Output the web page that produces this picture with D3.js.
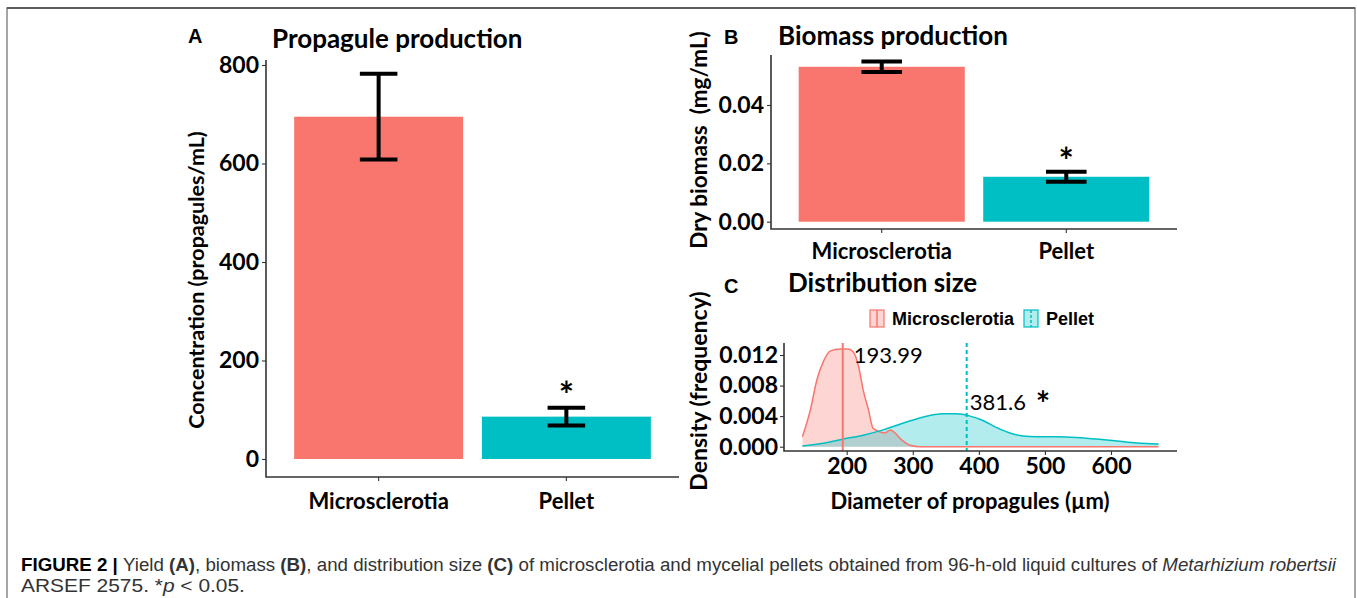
<!DOCTYPE html>
<html>
<head>
<meta charset="utf-8">
<script src="https://cdn.jsdelivr.net/npm/d3@7"></script>
<style>
  body { margin: 0; background: #fff; }
  svg text { font-family: Lato, "Open Sans", sans-serif; }
  .tick text { font-weight: bold; fill: #000; }
  .lbl { font-family: "Liberation Sans", Arial, sans-serif !important; font-weight: bold; }
</style>
</head>
<body>
<svg id="fig" width="1357" height="598"></svg>
<script>
// data
var barCats = ['Microsclerotia', 'Pellet'];
var propMean = [695, 86];
var propErr = [87, 18];
var bioMean = [0.0531, 0.0154];
var bioErr = [0.0018, 0.0017];
var propTicks = [0, 200, 400, 600, 800];
var bioTicks = [0, 0.02, 0.04];
var sizeTicksX = [200, 300, 400, 500, 600];
var sizeTicksY = [0, 0.004, 0.008, 0.012];

var microX = [133, 145, 155, 165, 175, 190, 202, 210, 218, 225, 233, 240, 248, 258, 266, 273, 283, 296, 311, 672];
var microY = [0.0013, 0.0048, 0.0088, 0.0112, 0.0125, 0.0128, 0.0128, 0.0124, 0.0105, 0.0074, 0.0048, 0.0024, 0.0020, 0.0018, 0.0022, 0.0018, 0.0009, 0.0002, 0.0000, 0.0000];
var pelletX = [133, 165, 195, 225, 255, 286, 316, 346, 366, 387, 407, 427, 447, 467, 487, 518, 548, 578, 609, 639, 672];
var pelletY = [0.0001, 0.00045, 0.0010, 0.0015, 0.0022, 0.0031, 0.0039, 0.0043, 0.0043, 0.0040, 0.0034, 0.0025, 0.0018, 0.0014, 0.0013, 0.0013, 0.0012, 0.0010, 0.00075, 0.0005, 0.00035];
var medians = [193.99, 381.6];

var RED = '#F8766D', CYAN = '#00BFC4';

var svg = d3.select('#fig');

// frame round the figure
svg.append('path').attr('d', 'M7,600V8H1355V600').attr('fill', 'none').attr('stroke', '#888').attr('stroke-width', 1.5);
svg.append('line').attr('x1', 7).attr('x2', 1355).attr('y1', 8).attr('y2', 8).attr('stroke', '#444').attr('stroke-width', 1.5);

function axisLines(g, x0, x1, y0, y1) {
    g.append('path')
        .attr('d', 'M' + x0 + ',' + y0 + 'V' + y1 + 'H' + x1)
        .attr('fill', 'none').attr('stroke', '#333').attr('stroke-width', 1.6);
}

function styleAxis(sel, size) {
    sel.select('.domain').remove();
    sel.selectAll('.tick line').attr('stroke', '#333').attr('stroke-width', 1.1);
    sel.selectAll('.tick text').style('font-size', size + 'px');
}

// bar panel (A and B)
function barPanel(o) {
    var g = svg.append('g');
    var x = d3.scaleBand().domain(barCats).range([o.x0, o.x1]).paddingInner(0.1).paddingOuter(0.15);
    var y = d3.scaleLinear().domain(o.domain).range(o.yrange);

    g.selectAll('rect.bar')
        .data(o.mean)
        .enter().append('rect')
        .attr('class', 'bar')
        .attr('x', function(d, i) { return x(barCats[i]); })
        .attr('width', x.bandwidth())
        .attr('y', function(d) { return y(d); })
        .attr('height', function(d) { return y(0) - y(d); })
        .attr('fill', function(d, i) { return i ? CYAN : RED; });

    // error bars
    var cap = x.step() * o.cap;
    var eb = g.selectAll('g.err')
        .data(o.mean)
        .enter().append('g')
        .attr('stroke', '#000').attr('stroke-width', 4).attr('fill', 'none');
    eb.append('path').attr('d', function(d, i) {
        var cx = x(barCats[i]) + x.bandwidth() / 2,
            hi = y(d + o.err[i]), lo = y(d - o.err[i]);
        return 'M' + (cx - cap / 2) + ',' + hi + 'H' + (cx + cap / 2) +
            'M' + cx + ',' + hi + 'V' + lo +
            'M' + (cx - cap / 2) + ',' + lo + 'H' + (cx + cap / 2);
    });

    // significance mark
    g.append('text')
        .attr('x', x('Pellet') + x.bandwidth() / 2)
        .attr('y', y(o.mean[1] + o.err[1]) + o.starDy)
        .attr('text-anchor', 'middle')
        .style('font-size', '36px').style('font-weight', 'bold')
        .text('*');

    var ya = g.append('g').attr('transform', 'translate(' + o.x0 + ',0)')
        .call(d3.axisLeft(y).tickValues(o.ticks).tickFormat(o.fmt).tickSize(4).tickPadding(3));
    styleAxis(ya, 23);
    var xa = g.append('g').attr('transform', 'translate(0,' + o.y1 + ')')
        .call(d3.axisBottom(x).tickSize(4).tickPadding(o.xpad));
    styleAxis(xa, 22);
    axisLines(g, o.x0, o.x1, o.y0, o.y1);

    g.append('text')
        .attr('transform', 'translate(' + o.ytx + ',' + o.yty + ') rotate(-90)')
        .attr('text-anchor', 'middle')
        .style('font-size', o.ysize + 'px').style('font-weight', 'bold')
        .text(o.ytitle);
    g.append('text').attr('x', o.tx).attr('y', o.ty)
        .style('font-size', '26px').style('font-weight', 'bold').text(o.title);
    g.append('text').attr('class', 'lbl').attr('x', o.lx).attr('y', o.ly)
        .style('font-size', '20px').text(o.letter);
}

barPanel({
    x0: 266, x1: 679, y0: 60, y1: 477,
    domain: [0, 800], yrange: [459, 65],
    mean: propMean, err: propErr, ticks: propTicks, fmt: d3.format('d'),
    cap: 0.2, xpad: 12, starDy: 0,
    ytitle: 'Concentration (propagules/mL)', ytx: 204, yty: 280, ysize: 21.5,
    title: 'Propagule production', tx: 272, ty: 48,
    letter: 'A', lx: 188, ly: 43
});

barPanel({
    x0: 771, x1: 1177, y0: 55, y1: 229,
    domain: [0, 0.04], yrange: [221.7, 105],
    mean: bioMean, err: bioErr, ticks: bioTicks, fmt: d3.format('.2f'),
    cap: 0.22, xpad: 10, starDy: 2,
    ytitle: 'Dry biomass\u00a0 (mg/mL)', ytx: 707, yty: 140, ysize: 22.5,
    title: 'Biomass production', tx: 778, ty: 45,
    letter: 'B', lx: 724, ly: 44
});

// density panel (C)
(function() {
    var g = svg.append('g');
    var x0 = 784, x1 = 1177, y0 = 343, y1 = 451;
    var x = d3.scaleLinear().domain([200, 600]).range([846.7, 1111]);
    var y = d3.scaleLinear().domain([0, 0.012]).range([446.7, 355]);

    var series = [
        { xs: microX, ys: microY, color: RED },
        { xs: pelletX, ys: pelletY, color: CYAN }
    ];
    var area = d3.area().curve(d3.curveMonotoneX)
        .x(function(d) { return x(d[0]); }).y0(y(0)).y1(function(d) { return y(d[1]); });
    var line = d3.line().curve(d3.curveMonotoneX)
        .x(function(d) { return x(d[0]); }).y(function(d) { return y(d[1]); });

    series.forEach(function(s) {
        var pts = d3.zip(s.xs, s.ys);
        g.append('path').datum(pts).attr('d', area).attr('fill', s.color).attr('fill-opacity', 0.3);
    });
    series.forEach(function(s) {
        var pts = d3.zip(s.xs, s.ys);
        g.append('path').datum(pts).attr('d', line).attr('fill', 'none').attr('stroke', s.color).attr('stroke-width', 1.5);
    });

    // medians
    g.append('line').attr('x1', x(medians[0])).attr('x2', x(medians[0])).attr('y1', y0).attr('y2', y1)
        .attr('stroke', RED).attr('stroke-width', 2);
    g.append('line').attr('x1', x(medians[1])).attr('x2', x(medians[1])).attr('y1', y0).attr('y2', y1)
        .attr('stroke', CYAN).attr('stroke-width', 2).attr('stroke-dasharray', '4,3');
    g.append('text').attr('x', x(medians[0]) + 11).attr('y', 363)
        .style('font-size', '22px').text(String(medians[0]));
    g.append('text').attr('x', x(medians[1]) + 3).attr('y', 410)
        .style('font-size', '22px').text(String(medians[1]));
    g.append('text').attr('x', 1043).attr('y', 416).attr('text-anchor', 'middle')
        .style('font-size', '34px').style('font-weight', 'bold').text('*');

    var ya = g.append('g').attr('transform', 'translate(' + x0 + ',0)')
        .call(d3.axisLeft(y).tickValues(sizeTicksY).tickFormat(d3.format('.3f')).tickSize(4).tickPadding(2));
    styleAxis(ya, 23);
    var xa = g.append('g').attr('transform', 'translate(0,' + y1 + ')')
        .call(d3.axisBottom(x).tickValues(sizeTicksX).tickFormat(d3.format('d')).tickSize(4).tickPadding(3));
    styleAxis(xa, 23);
    axisLines(g, x0, x1, y0, y1);

    g.append('text').attr('x', 970).attr('y', 509).attr('text-anchor', 'middle')
        .style('font-size', '22px').style('font-weight', 'bold').text('Diameter of propagules (µm)');
    g.append('text')
        .attr('transform', 'translate(707,391) rotate(-90)')
        .attr('text-anchor', 'middle')
        .style('font-size', '23px').style('font-weight', 'bold')
        .text('Density (frequency)');
    g.append('text').attr('x', 788).attr('y', 292)
        .style('font-size', '26px').style('font-weight', 'bold').text('Distribution size');
    g.append('text').attr('class', 'lbl').attr('x', 724).attr('y', 293)
        .style('font-size', '20px').text('C');

    // legend
    var lg = g.append('g').attr('transform', 'translate(870,310)');
    var items = [
        { name: barCats[0], color: RED, dash: null, x: 0 },
        { name: barCats[1], color: CYAN, dash: '3,2', x: 154 }
    ];
    items.forEach(function(it) {
        var k = lg.append('g').attr('transform', 'translate(' + it.x + ',0)');
        k.append('rect').attr('width', 14).attr('height', 17)
            .attr('fill', it.color).attr('fill-opacity', 0.3).attr('stroke', it.color).attr('stroke-width', 1.2);
        k.append('line').attr('x1', 7).attr('x2', 7).attr('y1', 0).attr('y2', 17)
            .attr('stroke', it.color).attr('stroke-width', 1.5).attr('stroke-dasharray', it.dash);
        k.append('text').attr('class', 'lbl').attr('x', 22).attr('y', 15)
            .style('font-size', '18px').text(it.name);
    });
})();

// caption, squeezed horizontally to the width it has in the figure
function fitText(t, x, y, w) {
    var len = t.node().getComputedTextLength();
    t.attr('transform', 'translate(' + x + ',' + y + ') scale(' + (w / len) + ',1)');
}
var cap = svg.append('g').style('fill', '#333');
var line1 = cap.append('text')
    .style('font-family', '"Liberation Sans", Arial, sans-serif').style('font-size', '18px');
[
    ['FIGURE 2 | ', 'bold', 'normal'], ['Yield ', 'normal', 'normal'], ['(A)', 'bold', 'normal'],
    [', biomass ', 'normal', 'normal'], ['(B)', 'bold', 'normal'], [', and distribution size ', 'normal', 'normal'],
    ['(C)', 'bold', 'normal'],
    [' of microsclerotia and mycelial pellets obtained from 96-h-old liquid cultures of ', 'normal', 'normal'],
    ['Metarhizium robertsii', 'normal', 'italic']
].forEach(function(p, i) {
    line1.append('tspan').style('font-weight', p[1]).style('font-style', p[2])
        .style('fill', i === 0 ? '#000' : null).text(p[0]);
});
fitText(line1, 21, 571, 1315);
var line2 = cap.append('text')
    .style('font-family', '"Liberation Sans", Arial, sans-serif').style('font-size', '18px');
line2.append('tspan').text('ARSEF 2575. *');
line2.append('tspan').style('font-style', 'italic').text('p');
line2.append('tspan').text(' < 0.05.');
fitText(line2, 21, 592, 224);
</script>
</body>
</html>
